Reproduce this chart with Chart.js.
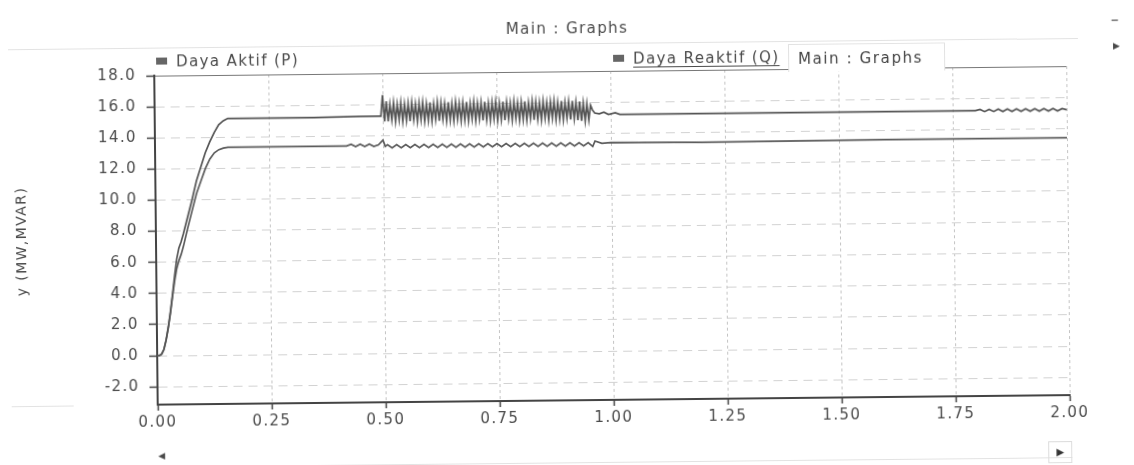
<!DOCTYPE html>
<html>
<head>
<meta charset="utf-8">
<script src="https://cdn.jsdelivr.net/npm/chart.js@4.4.1/dist/chart.umd.min.js"></script>
<style>
  html, body { margin: 0; padding: 0; background: #fff; overflow: hidden; }
  body { font-family: "DejaVu Sans", "Liberation Sans", Arial, sans-serif; color: #4a4a4a; }
  #page { position: relative; width: 1134px; height: 465px; transform: rotate(-0.6deg); transform-origin: 600px 240px; }
  #wrap { position: absolute; left: 0; top: 0; width: 1134px; height: 465px; }
  .txt { position: absolute; white-space: nowrap; font-size: 15px; letter-spacing: 1.4px; line-height: 18px; }
  .leg { position: absolute; white-space: nowrap; font-size: 15px; letter-spacing: 1.4px; line-height: 18px; background: #fff; padding-right: 2px; }
  .leg i { display: inline-block; width: 11px; height: 7px; background: #666; margin-right: 9px; vertical-align: 2px; }
  .leg.active span { text-decoration: underline; text-underline-offset: 3px; }
  #hover { position: absolute; left: 790px; top: 46px; width: 157px; height: 28px; background: #fff; border: 1px solid #e2e2e2; border-bottom: none; font-size: 15px; letter-spacing: 1.6px; line-height: 28px; padding-left: 9px; box-sizing: border-box; color: #444; }
  .rule { position: absolute; height: 1px; background: #e3e3e3; }
  #scrollR { position: absolute; left: 1046px; top: 446px; width: 22px; height: 20px; border: 1px solid #ddd; font-size: 10px; text-align: center; line-height: 20px; color: #333; }
</style>
</head>
<body>
<div id="page">
  <div class="rule" style="left:10px; top:43px; width:1070px;"></div>
  <div class="rule" style="left:10px; top:400px; width:62px;"></div>
  <div class="rule" style="left:150px; top:462px; width:920px;"></div>
  <div id="wrap"><canvas id="myChart"></canvas></div>
  <div class="txt" style="left:508px; top:19px;">Main : Graphs</div>
  <div id="legend"></div>
  <div id="hover">Main : Graphs</div>
  <div class="txt" style="left:1113px; top:16px; font-size:16px;">–</div>
  <div class="txt" style="left:1115px; top:42px; font-size:9px;">▶</div>
  <div class="txt" style="left:156px; top:442px; font-size:9px;">◀</div>
  <div id="scrollR">▶</div>
</div>
<script>
// time axis (s) and y axis tick values
const xTicks = [0, 0.25, 0.5, 0.75, 1.0, 1.25, 1.5, 1.75, 2.0];
const yTicks = [-2, 0, 2, 4, 6, 8, 10, 12, 14, 16, 18];

// Daya Aktif (P) - start-up ramp and plateau
const tP1 = [0, 0.005, 0.01, 0.015, 0.02, 0.025, 0.03, 0.035, 0.04, 0.045, 0.05, 0.055, 0.06, 0.07, 0.08, 0.09, 0.10, 0.11, 0.12, 0.13, 0.14, 0.15, 0.16, 0.17, 0.25, 0.35, 0.45, 0.496];
const p1  = [0, 0, 0.1, 0.4, 1.0, 1.8, 2.8, 3.9, 5.1, 6.2, 6.9, 7.3, 7.8, 8.9, 10.0, 11.2, 12.1, 13.0, 13.7, 14.3, 14.8, 15.05, 15.2, 15.2, 15.2, 15.2, 15.25, 15.25];

// P - oscillation between 0.50 s and 0.96 s
const tP2 = [0.500, 0.504, 0.508, 0.512, 0.516, 0.520, 0.524, 0.528, 0.532, 0.536,
             0.540, 0.544, 0.548, 0.552, 0.556, 0.560, 0.564, 0.568, 0.572, 0.576,
             0.580, 0.584, 0.588, 0.592, 0.596, 0.600, 0.604, 0.608, 0.612, 0.616,
             0.620, 0.624, 0.628, 0.632, 0.636, 0.640, 0.644, 0.648, 0.652, 0.656,
             0.660, 0.664, 0.668, 0.672, 0.676, 0.680, 0.684, 0.688, 0.692, 0.696,
             0.700, 0.704, 0.708, 0.712, 0.716, 0.720, 0.724, 0.728, 0.732, 0.736,
             0.740, 0.744, 0.748, 0.752, 0.756, 0.760, 0.764, 0.768, 0.772, 0.776,
             0.780, 0.784, 0.788, 0.792, 0.796, 0.800, 0.804, 0.808, 0.812, 0.816,
             0.820, 0.824, 0.828, 0.832, 0.836, 0.840, 0.844, 0.848, 0.852, 0.856,
             0.860, 0.864, 0.868, 0.872, 0.876, 0.880, 0.884, 0.888, 0.892, 0.896,
             0.900, 0.904, 0.908, 0.912, 0.916, 0.920, 0.924, 0.928, 0.932, 0.936,
             0.940, 0.944, 0.948, 0.952, 0.956, 0.960];
const p2  = [16.6, 14.9, 16.2, 14.9, 16.0, 15.0, 16.1, 14.9, 16.0, 15.0,
             16.1, 14.9, 16.0, 14.95, 16.05, 14.9, 16.1, 15.0, 16.0, 14.9,
             16.05, 15.0, 16.1, 14.9, 16.0, 14.95, 16.1, 14.9, 16.0, 15.0,
             16.1, 14.9, 16.05, 15.0, 16.0, 14.9, 16.1, 14.95, 16.0, 14.9,
             16.1, 15.0, 16.0, 14.9, 16.05, 14.95, 16.1, 14.9, 16.0, 15.0,
             16.1, 14.9, 16.0, 15.0, 16.05, 14.9, 16.1, 14.95, 16.0, 14.9,
             16.05, 15.0, 16.1, 14.9, 16.0, 14.95, 16.1, 14.9, 16.05, 15.0,
             16.0, 14.9, 16.1, 15.0, 16.0, 14.9, 16.05, 14.95, 16.1, 14.9,
             16.0, 15.0, 16.1, 14.9, 16.05, 14.95, 16.0, 14.9, 16.1, 15.0,
             16.0, 14.9, 16.05, 15.0, 16.1, 14.9, 16.0, 14.95, 16.1, 14.9,
             16.0, 15.0, 16.05, 14.9, 16.1, 14.95, 16.0, 14.85, 16.05, 14.8,
             15.95, 14.8, 15.9, 14.85, 15.8, 15.5];

// P - after the disturbance, small ripple near the end
const tP3 = [0.965, 0.975, 0.985, 0.995, 1.01, 1.02, 1.05, 1.3, 1.6, 1.8, 1.81, 1.82, 1.83, 1.84, 1.85, 1.86, 1.87, 1.88, 1.89, 1.90, 1.91, 1.92, 1.93, 1.94, 1.95, 1.96, 1.97, 1.98, 1.99, 2.0];
const p3  = [15.3, 15.25, 15.35, 15.2, 15.3, 15.2, 15.2, 15.2, 15.2, 15.2, 15.27, 15.13, 15.27, 15.13, 15.28, 15.12, 15.28, 15.12, 15.28, 15.12, 15.28, 15.12, 15.28, 15.12, 15.28, 15.12, 15.28, 15.12, 15.27, 15.2];

// Daya Reaktif (Q)
const tQ1 = [0, 0.005, 0.01, 0.015, 0.02, 0.025, 0.03, 0.035, 0.04, 0.045, 0.05, 0.055, 0.06, 0.07, 0.08, 0.09, 0.10, 0.11, 0.12, 0.13, 0.14, 0.15, 0.16, 0.17, 0.3, 0.42,
             0.43, 0.44, 0.45, 0.46, 0.47, 0.48, 0.49, 0.50, 0.505];
const q1  = [0, 0, 0.1, 0.4, 1.0, 1.8, 2.7, 3.8, 4.8, 5.6, 6.1, 6.5, 7.0, 8.2, 9.3, 10.4, 11.2, 12.0, 12.6, 13.0, 13.2, 13.3, 13.35, 13.35, 13.35, 13.35,
             13.45, 13.3, 13.45, 13.3, 13.45, 13.3, 13.4, 13.7, 13.3];
const tQ2 = [0.51, 0.52, 0.53, 0.54, 0.55, 0.56, 0.57, 0.58, 0.59, 0.60, 0.61, 0.62, 0.63, 0.64, 0.65, 0.66, 0.67, 0.68, 0.69, 0.70, 0.71, 0.72, 0.73,
             0.74, 0.75, 0.76, 0.77, 0.78, 0.79, 0.80, 0.81, 0.82, 0.83, 0.84, 0.85, 0.86, 0.87, 0.88, 0.89, 0.90, 0.91, 0.92, 0.93, 0.94, 0.95, 0.96];
const q2  = [13.4, 13.2, 13.4, 13.2, 13.4, 13.2, 13.4, 13.2, 13.4, 13.2, 13.4, 13.2, 13.4, 13.2, 13.4, 13.2, 13.4, 13.2, 13.4, 13.2, 13.4, 13.2, 13.4,
             13.2, 13.4, 13.2, 13.4, 13.2, 13.4, 13.2, 13.4, 13.2, 13.4, 13.2, 13.4, 13.2, 13.4, 13.2, 13.4, 13.2, 13.4, 13.2, 13.4, 13.2, 13.4, 13.15];
const tQ3 = [0.965, 0.98, 1.0, 1.2, 1.6, 2.0];
const q3  = [13.5, 13.35, 13.4, 13.35, 13.4, 13.4];

const labels = ['Daya Aktif (P)', 'Daya Reaktif (Q)'];

function toPoints(ts, vs) {
  return ts.map((t, i) => ({ x: t, y: vs[i] }));
}
const pData = [].concat(toPoints(tP1, p1), toPoints(tP2, p2), toPoints(tP3, p3));
const qData = [].concat(toPoints(tQ1, q1), toPoints(tQ2, q2), toPoints(tQ3, q3));

const tickFont = { family: 'DejaVu Sans', size: 15 };

// canvas text gets a bit of spacing like the html labels
const spacing = {
  id: 'spacing',
  beforeDraw(chart) { chart.ctx.letterSpacing = '1.4px'; }
};

const ctx = document.getElementById('myChart').getContext('2d');
const myChart = new Chart(ctx, {
  type: 'line',
  data: {
    datasets: [
      { label: labels[0], data: pData, borderColor: '#555', borderWidth: 1.7, pointRadius: 0, tension: 0, fill: false },
      { label: labels[1], data: qData, borderColor: '#5c5c5c', borderWidth: 1.7, pointRadius: 0, tension: 0, fill: false }
    ]
  },
  options: {
    responsive: true,
    maintainAspectRatio: false,
    animation: false,
    layout: { padding: { left: 0, right: 66, top: 71, bottom: 0 } },
    plugins: { legend: { display: false }, title: { display: false }, tooltip: { enabled: false } },
    scales: {
      x: {
        type: 'linear', min: 0, max: 2,
        afterBuildTicks: s => { s.ticks = xTicks.map(v => ({ value: v })); },
        afterFit: s => { s.height = 65; },
        ticks: { callback: v => v.toFixed(2), color: '#4a4a4a', font: tickFont, padding: 3, maxRotation: 0, autoSkip: false },
        grid: { color: '#c4c4c4', lineWidth: 1, tickColor: '#444', tickLength: 6, tickWidth: 1.5, tickBorderDash: [] },
        border: { display: true, color: '#444', width: 2, dash: [3, 3] }
      },
      y: {
        min: -3.15, max: 18,
        afterBuildTicks: s => { s.ticks = yTicks.map(v => ({ value: v })); },
        afterFit: s => { s.width = 156; },
        ticks: { callback: v => v.toFixed(1), color: '#4a4a4a', font: tickFont, padding: 10, autoSkip: false },
        title: { display: true, text: 'y (MW,MVAR)', color: '#4a4a4a', font: { family: 'DejaVu Sans', size: 14 }, padding: { top: 14, bottom: 0 } },
        grid: {
          color: c => (c.tick && c.tick.value === 18) ? '#777' : '#d2d2d2',
          lineWidth: 1, tickColor: '#444', tickLength: 8, tickWidth: 1.5, tickBorderDash: []
        },
        border: { display: true, color: '#444', width: 2, dash: c => (c.tick && c.tick.value === 18) ? [] : [9, 6] }
      }
    }
  },
  plugins: [spacing]
});

// legend entries taken from the datasets
const legendPos = [{ left: 158, top: 48 }, { left: 615, top: 50 }];
const legendEl = document.getElementById('legend');
myChart.data.datasets.forEach((ds, i) => {
  const d = document.createElement('div');
  d.className = 'leg' + (i === 1 ? ' active' : '');
  d.style.left = legendPos[i].left + 'px';
  d.style.top = legendPos[i].top + 'px';
  d.innerHTML = '<i></i><span></span>';
  d.querySelector('span').textContent = ds.label;
  legendEl.appendChild(d);
});
</script>
</body>
</html>
